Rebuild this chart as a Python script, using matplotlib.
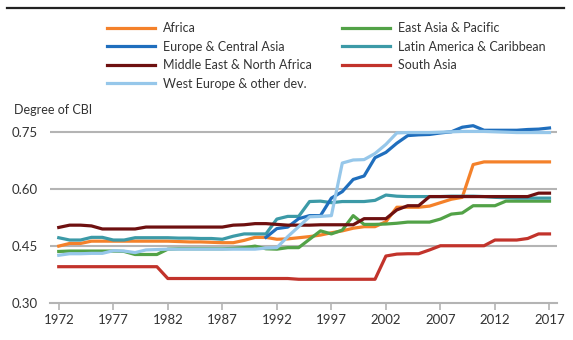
import numpy as np
import matplotlib
matplotlib.use('Agg')
import matplotlib.pyplot as plt
from matplotlib.lines import Line2D

plt.rcParams['font.family'] = ['Lato', 'DejaVu Sans']

years = list(range(1972, 2018))

africa = [0.450, 0.457, 0.457, 0.463, 0.463, 0.463, 0.463, 0.463, 0.463, 0.463,
          0.463, 0.462, 0.461, 0.461, 0.460, 0.459, 0.459, 0.465, 0.473, 0.473,
          0.468, 0.469, 0.472, 0.475, 0.479, 0.485, 0.490, 0.497, 0.501, 0.501,
          0.514, 0.552, 0.552, 0.552, 0.555, 0.564, 0.573, 0.578, 0.664, 0.671,
          0.671, 0.671, 0.671, 0.671, 0.671, 0.671]
east_asia = [0.436, 0.437, 0.437, 0.437, 0.437, 0.437, 0.436, 0.428, 0.428, 0.428,
             0.442, 0.443, 0.443, 0.443, 0.443, 0.443, 0.444, 0.446, 0.450, 0.443,
             0.442, 0.446, 0.446, 0.468, 0.490, 0.482, 0.492, 0.530, 0.507, 0.507,
             0.508, 0.510, 0.513, 0.513, 0.513, 0.521, 0.534, 0.537, 0.556, 0.556,
             0.556, 0.568, 0.568, 0.568, 0.568, 0.568]
europe_ca = [np.nan] * 19 + [
             0.473, 0.496, 0.500, 0.522, 0.530, 0.530, 0.576, 0.593, 0.625, 0.634,
             0.682, 0.696, 0.720, 0.740, 0.742, 0.743, 0.747, 0.750, 0.762, 0.766,
             0.754, 0.754, 0.754, 0.754, 0.756, 0.757, 0.760]
latam = [0.472, 0.466, 0.466, 0.473, 0.473, 0.466, 0.466, 0.472, 0.472, 0.472,
         0.472, 0.471, 0.471, 0.470, 0.470, 0.468, 0.476, 0.482, 0.482, 0.482,
         0.521, 0.528, 0.528, 0.567, 0.568, 0.564, 0.567, 0.567, 0.567, 0.570,
         0.584, 0.581, 0.580, 0.580, 0.580, 0.580, 0.581, 0.581, 0.581, 0.580,
         0.578, 0.577, 0.576, 0.576, 0.576, 0.576]
mena = [0.499, 0.505, 0.505, 0.503, 0.495, 0.495, 0.495, 0.495, 0.500, 0.500,
        0.500, 0.500, 0.500, 0.500, 0.500, 0.500, 0.505, 0.506, 0.509, 0.509,
        0.507, 0.505, 0.505, 0.505, 0.506, 0.506, 0.506, 0.506, 0.522, 0.522,
        0.522, 0.545, 0.556, 0.556, 0.580, 0.580, 0.580, 0.580, 0.580, 0.580,
        0.580, 0.580, 0.580, 0.580, 0.589, 0.589]
south_asia = [0.396, 0.396, 0.396, 0.396, 0.396, 0.396, 0.396, 0.396, 0.396, 0.396,
              0.365, 0.365, 0.365, 0.365, 0.365, 0.365, 0.365, 0.365, 0.365, 0.365,
              0.365, 0.365, 0.363, 0.363, 0.363, 0.363, 0.363, 0.363, 0.363, 0.363,
              0.424, 0.429, 0.430, 0.430, 0.440, 0.451, 0.451, 0.451, 0.451, 0.451,
              0.466, 0.466, 0.466, 0.470, 0.482, 0.482]
west_europe = [0.426, 0.430, 0.430, 0.431, 0.431, 0.438, 0.437, 0.433, 0.440, 0.441,
               0.442, 0.442, 0.442, 0.442, 0.442, 0.442, 0.442, 0.442, 0.442, 0.445,
               0.446, 0.475, 0.501, 0.527, 0.528, 0.530, 0.668, 0.676, 0.677, 0.693,
               0.717, 0.747, 0.748, 0.748, 0.748, 0.749, 0.750, 0.751, 0.751, 0.751,
               0.750, 0.749, 0.748, 0.748, 0.748, 0.748]

series = [
    ('Africa', africa, '#f4812a'),
    ('East Asia & Pacific', east_asia, '#52a247'),
    ('Latin America & Caribbean', latam, '#3c9aa7'),
    ('Europe & Central Asia', europe_ca, '#1f6ebd'),
    ('Middle East & North Africa', mena, '#6e1010'),
    ('South Asia', south_asia, '#c2332b'),
    ('West Europe & other dev.', west_europe, '#96c7ea'),
]

fig = plt.figure(figsize=(5.73, 3.40), dpi=100)
ax = fig.add_axes([0.0873, 0.108, 0.885, 0.538])

grid_c = '#b4b4b4'
for yv in [0.45, 0.60, 0.75]:
    ax.axhline(yv, color=grid_c, lw=1.5, zorder=1)

handles = {}
for name, vals, col in series:
    ln, = ax.plot(years, vals, color=col, lw=2.3, zorder=3, clip_on=False,
                  solid_joinstyle='round')
    handles[name] = ln

ax.set_xlim(1971.2, 2017.7)
ax.set_ylim(0.30, 0.78)
ax.set_xticks(list(range(1972, 2018, 5)))
ax.set_yticks([0.30, 0.45, 0.60, 0.75])
ax.set_yticklabels(['0.30', '0.45', '0.60', '0.75'])

for s in ['top', 'right', 'left']:
    ax.spines[s].set_visible(False)
ax.spines['bottom'].set_color(grid_c)
ax.spines['bottom'].set_linewidth(1.5)
ax.tick_params(axis='x', colors=grid_c, length=5, width=1.2, labelsize=9.5, pad=3,
               labelcolor='#333333')
ax.tick_params(axis='y', length=0, labelsize=9.5, pad=9, labelcolor='#333333')

fig.text(0.024, 0.676, 'Degree of CBI', fontsize=9, color='#333333', va='center')

# top rule
fig.add_artist(Line2D([0.012, 0.985], [0.977, 0.977], color='#222222', lw=1.6,
                      transform=fig.transFigure))

col1 = ['Africa', 'Europe & Central Asia', 'Middle East & North Africa',
        'West Europe & other dev.']
col2 = ['East Asia & Pacific', 'Latin America & Caribbean', 'South Asia']
leg_kw = dict(frameon=False, fontsize=9, handlelength=3.9, handletextpad=0.6,
              labelspacing=0.52, borderpad=0, borderaxespad=0, loc='upper left',
              labelcolor='#333333')
fig.legend([handles[n] for n in col1], col1, bbox_to_anchor=(0.186, 0.935), **leg_kw)
fig.legend([handles[n] for n in col2], col2, bbox_to_anchor=(0.596, 0.935), **leg_kw)

fig.savefig('out.png', dpi=100)
